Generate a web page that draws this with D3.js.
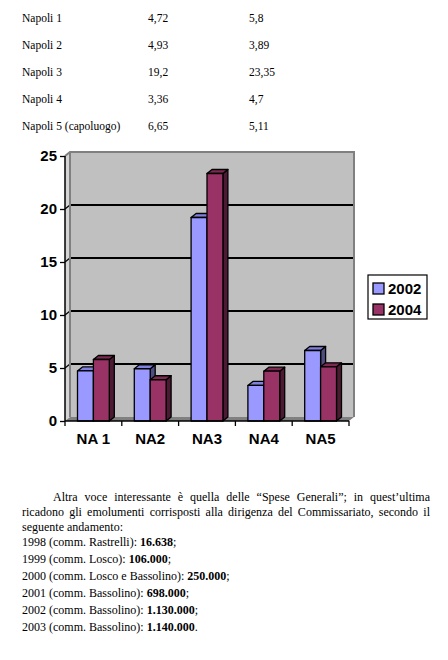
<!DOCTYPE html>
<html>
<head>
<meta charset="utf-8">
<script src="https://cdn.jsdelivr.net/npm/d3@7"></script>
<style>
  body { margin: 0; background: #fff; }
  svg { display: block; }
</style>
</head>
<body>
<svg id="page" width="448" height="660"></svg>
<script>
// data
const districts = ["Napoli 1", "Napoli 2", "Napoli 3", "Napoli 4", "Napoli 5 (capoluogo)"];
const categories = ["NA 1", "NA2", "NA3", "NA4", "NA5"];
const years = ["2002", "2004"];
const values2002 = [4.72, 4.93, 19.2, 3.36, 6.65];
const values2004 = [5.8, 3.89, 23.35, 4.7, 5.11];
const yTicks = [0, 5, 10, 15, 20, 25];

const introLines = [
    "Altra voce interessante è quella delle “Spese Generali”; in quest’ultima",
    "ricadono gli emolumenti corrisposti alla dirigenza del Commissariato, secondo il",
    "seguente andamento:"
];
const speseYears = ["1998", "1999", "2000", "2001", "2002", "2003"];
const speseComm = ["comm. Rastrelli", "comm. Losco", "comm. Losco e Bassolino",
    "comm. Bassolino", "comm. Bassolino", "comm. Bassolino"];
const speseAmounts = ["16.638", "106.000", "250.000", "698.000", "1.130.000", "1.140.000"];

const colors = {
    "2002": {front: "#9999ff", top: "#8080e0", side: "#4d4d80"},
    "2004": {front: "#993366", top: "#7d2952", side: "#4d1a33"}
};
const serif = "'Liberation Serif', 'Times New Roman', serif";
const sans = "'Liberation Sans', Arial, sans-serif";

const svg = d3.select("#page");
const fmt = v => String(v).replace(".", ",");

// ---- table at the top
const rowY = d3.scaleLinear().domain([0, 4]).range([22, 130]);
const table = svg.append("g").attr("font-family", serif).attr("font-size", 11.5);
districts.forEach((name, i) => {
    table.append("text").attr("x", 22).attr("y", rowY(i)).text(name);
    table.append("text").attr("x", 148).attr("y", rowY(i)).text(fmt(values2002[i]));
    table.append("text").attr("x", 249).attr("y", rowY(i)).text(fmt(values2004[i]));
});

// ---- 3D column chart
const left = 65, right = 349, dx = 5, dy = -4;
const y = d3.scaleLinear().domain([0, 25]).range([421, 156]);
const x0 = d3.scaleBand().domain(categories).range([left, right]);
const x1 = d3.scaleBand().domain(years)
    .range([x0.bandwidth() * 0.22, x0.bandwidth() * 0.78]);

const chart = svg.append("g");
const y0 = y(0), yTop = y(25);

// side wall
chart.append("polygon")
    .attr("points", [[left, y0], [left, yTop], [left + dx, yTop + dy], [left + dx, y0 + dy]].join(" "))
    .attr("fill", "#d4d4d4");
// back wall
chart.append("rect")
    .attr("x", left + dx).attr("y", yTop + dy)
    .attr("width", right - left).attr("height", y0 - yTop)
    .attr("fill", "#c0c0c0");
// floor
chart.append("polygon")
    .attr("points", [[left, y0], [left + dx, y0 + dy], [right + dx, y0 + dy], [right, y0]].join(" "))
    .attr("fill", "#808080");

// gridlines on back wall and side wall
yTicks.filter(t => t > 0 && t < 25).forEach(t => {
    chart.append("line")
        .attr("x1", left + dx).attr("x2", right + dx)
        .attr("y1", y(t) + dy).attr("y2", y(t) + dy)
        .attr("stroke", "#000").attr("stroke-width", 2);
    chart.append("line")
        .attr("x1", left).attr("y1", y(t))
        .attr("x2", left + dx).attr("y2", y(t) + dy)
        .attr("stroke", "#000").attr("stroke-width", 1.2);
});
// wall borders
chart.append("path")
    .attr("d", `M${left},${yTop}L${left + dx},${yTop + dy}H${right + dx}V${y0 + dy}`
        + `M${left + dx},${yTop + dy}V${y0 + dy}`)
    .attr("fill", "none").attr("stroke", "#808080").attr("stroke-width", 2);

// bars
const bars = [];
categories.forEach((c, i) => {
    bars.push({cat: c, year: "2002", v: values2002[i]});
    bars.push({cat: c, year: "2004", v: values2004[i]});
});
const bw = x1.bandwidth();
const barG = chart.selectAll("g.bar").data(bars).join("g").attr("class", "bar")
    .attr("stroke", "#000").attr("stroke-width", 1.3).attr("stroke-linejoin", "round");
barG.each(function(d) {
    const g = d3.select(this);
    const bx = x0(d.cat) + x1(d.year), by = y(d.v);
    const col = colors[d.year];
    g.append("polygon")
        .attr("points", [[bx + bw, by], [bx + bw + dx, by + dy], [bx + bw + dx, y0 + dy], [bx + bw, y0]].join(" "))
        .attr("fill", col.side);
    g.append("polygon")
        .attr("points", [[bx, by], [bx + dx, by + dy], [bx + bw + dx, by + dy], [bx + bw, by]].join(" "))
        .attr("fill", col.top);
    g.append("rect")
        .attr("x", bx).attr("y", by).attr("width", bw).attr("height", y0 - by)
        .attr("fill", col.front);
});

// axes
const yAxis = chart.append("g").attr("transform", `translate(${left},0)`)
    .call(d3.axisLeft(y).tickValues(yTicks).tickSize(5).tickPadding(3));
const xAxis = chart.append("g").attr("transform", `translate(0,${y0})`)
    .call(d3.axisBottom(x0).tickSize(0).tickPadding(12));
xAxis.selectAll(".tick").append("line")
    .attr("x1", -x0.bandwidth() / 2).attr("x2", -x0.bandwidth() / 2)
    .attr("y1", 0).attr("y2", 5).attr("stroke", "#000").attr("stroke-width", 1.3);
xAxis.append("line")
    .attr("x1", right).attr("x2", right).attr("y1", 0).attr("y2", 5)
    .attr("stroke", "#000").attr("stroke-width", 1.3);
[yAxis, xAxis].forEach(a => {
    a.select(".domain").attr("stroke", "#000").attr("stroke-width", 1.5);
    a.selectAll("text").attr("font-family", sans).attr("font-weight", "bold")
        .attr("font-size", 15).attr("fill", "#000");
});
yAxis.select(".domain").attr("d", `M0,${y0}V${yTop}`);
xAxis.select(".domain").attr("d", `M${left},0H${right}`);
yAxis.selectAll(".tick line").attr("stroke", "#000").attr("stroke-width", 1.3);

// legend
const legend = svg.append("g").attr("transform", "translate(368,275)");
legend.append("rect").attr("width", 59).attr("height", 44)
    .attr("fill", "#fff").attr("stroke", "#000").attr("stroke-width", 1.2);
years.forEach((yr, i) => {
    const ly = 8 + i * 21;
    legend.append("rect").attr("x", 5).attr("y", ly).attr("width", 11).attr("height", 11)
        .attr("fill", colors[yr].front).attr("stroke", "#000").attr("stroke-width", 1.3);
    legend.append("text").attr("x", 20).attr("y", ly + 11)
        .attr("font-family", sans).attr("font-weight", "bold").attr("font-size", 15)
        .text(yr);
});

// ---- paragraph under the chart
const para = svg.append("g").attr("font-family", serif).attr("font-size", 12);
const lineStarts = [53, 22, 22];
introLines.forEach((line, i) => {
    const t = para.append("text").attr("x", lineStarts[i]).attr("y", 501 + i * 15).text(line);
    if (i < 2) {
        const natural = t.node().getComputedTextLength();
        const gaps = line.split(" ").length - 1;
        t.style("word-spacing", ((430 - lineStarts[i] - natural) / gaps) + "px");
    }
});
speseYears.forEach((yr, i) => {
    const t = para.append("text").attr("x", 22).attr("y", 546 + i * 17);
    t.append("tspan").text(`${yr} (${speseComm[i]}): `);
    t.append("tspan").attr("font-weight", "bold").text(speseAmounts[i]);
    t.append("tspan").text(i === speseYears.length - 1 ? "." : ";");
});
</script>
</body>
</html>
